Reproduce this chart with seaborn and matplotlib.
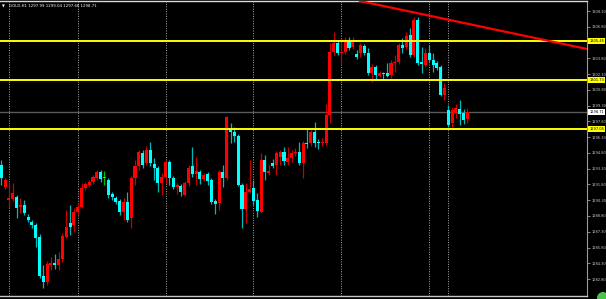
import numpy as np
import pandas as pd
import matplotlib
matplotlib.use("Agg")
import matplotlib.pyplot as plt
import seaborn as sns
from matplotlib.patches import Circle

# ---------------- data ----------------
symbol = "GOLD,H1"
header_values = ["1297.99", "1299.04", "1297.66", "1298.71"]

opens = [1293.65, 1291.56, 1290.32, 1290.42, 1290.61, 1289.65, 1289.84, 1288.70, 1288.23, 1287.94,
         1286.80, 1283.09, 1282.52, 1284.13, 1284.32, 1284.13, 1284.71, 1286.80, 1288.13, 1287.94,
         1289.18, 1289.65, 1291.46, 1291.75, 1292.03, 1292.41, 1292.98, 1292.41, 1292.22, 1290.89,
         1290.51, 1290.22, 1289.18, 1290.13, 1288.61, 1292.41, 1293.56, 1294.79, 1293.84, 1295.08,
         1293.75, 1293.37, 1291.94, 1292.51, 1293.94, 1292.41, 1291.56, 1291.65, 1290.80, 1291.94,
         1293.56, 1292.79, 1292.98, 1292.32, 1292.79, 1292.22, 1290.22, 1290.03, 1292.98, 1292.41,
         1297.17, 1296.79, 1296.41, 1291.75, 1289.46, 1291.08, 1291.46, 1290.32, 1289.18, 1294.13,
         1292.89, 1293.84, 1293.65, 1294.41, 1294.89, 1293.94, 1294.32, 1294.79, 1294.89, 1293.84,
         1295.74, 1295.74, 1296.79, 1295.84, 1295.74, 1295.74, 1298.41, 1304.40, 1305.26, 1304.31,
         1304.40, 1305.35, 1304.88, 1304.21, 1304.31, 1304.97, 1304.31, 1302.40, 1302.98, 1302.12,
         1302.40, 1302.40, 1302.21, 1303.36, 1303.45, 1305.07, 1304.88, 1306.02, 1304.12, 1307.45,
         1303.45, 1303.17, 1304.31, 1303.64, 1303.36, 1302.98, 1300.31, 1298.88, 1297.65, 1298.60,
         1298.98, 1298.60, 1297.99]
highs = [1294.13, 1292.41, 1291.94, 1291.94, 1290.80, 1290.51, 1290.32, 1288.99, 1288.42, 1288.13,
         1287.08, 1284.13, 1284.52, 1284.90, 1285.18, 1285.37, 1287.18, 1289.37, 1289.84, 1289.56,
         1290.03, 1291.94, 1292.03, 1292.22, 1292.70, 1293.17, 1293.17, 1293.08, 1292.41, 1291.08,
         1290.70, 1290.42, 1290.51, 1291.08, 1292.60, 1294.13, 1295.08, 1295.08, 1295.46, 1295.84,
         1294.32, 1293.56, 1292.89, 1294.13, 1294.13, 1292.60, 1291.94, 1291.84, 1292.13, 1293.65,
         1295.36, 1294.42, 1293.17, 1292.89, 1292.98, 1292.41, 1290.42, 1293.17, 1293.65, 1298.31,
         1297.65, 1297.27, 1296.60, 1291.94, 1291.94, 1294.13, 1292.22, 1290.99, 1294.79, 1294.60,
         1293.65, 1294.22, 1294.98, 1295.08, 1295.36, 1295.36, 1295.08, 1295.27, 1295.84, 1295.93,
         1297.17, 1296.98, 1297.74, 1296.12, 1296.22, 1299.46, 1305.26, 1306.31, 1305.54, 1305.73,
         1305.83, 1305.83, 1305.83, 1304.59, 1305.26, 1305.16, 1304.78, 1303.26, 1303.17, 1302.59,
         1302.50, 1303.36, 1303.64, 1304.12, 1305.26, 1305.73, 1306.31, 1306.69, 1307.73, 1307.73,
         1304.88, 1304.78, 1305.07, 1304.31, 1303.55, 1303.17, 1301.45, 1299.36, 1299.17, 1299.46,
         1299.84, 1298.98, 1299.04]
lows = [1291.75, 1291.37, 1289.56, 1290.22, 1288.61, 1289.08, 1288.89, 1288.23, 1287.66, 1285.85,
        1282.90, 1281.95, 1282.23, 1283.66, 1283.75, 1283.66, 1284.42, 1286.70, 1286.99, 1287.28,
        1288.99, 1289.56, 1291.27, 1291.56, 1291.84, 1292.22, 1292.03, 1291.75, 1290.51, 1290.32,
        1289.94, 1288.89, 1288.42, 1288.23, 1287.66, 1291.75, 1293.17, 1293.37, 1293.65, 1293.56,
        1292.22, 1291.08, 1290.80, 1291.94, 1291.75, 1291.37, 1290.89, 1290.70, 1290.70, 1291.65,
        1292.51, 1291.75, 1291.84, 1292.13, 1291.75, 1289.94, 1288.99, 1289.37, 1291.56, 1292.22,
        1295.74, 1295.84, 1291.65, 1287.66, 1288.13, 1290.99, 1289.84, 1288.70, 1289.08, 1292.22,
        1292.70, 1293.37, 1292.70, 1293.65, 1293.65, 1293.65, 1293.94, 1294.51, 1293.65, 1292.41,
        1295.27, 1295.46, 1295.36, 1295.17, 1295.46, 1295.55, 1297.65, 1304.12, 1304.12, 1303.36,
        1304.21, 1304.59, 1304.69, 1303.74, 1303.93, 1304.12, 1302.21, 1301.55, 1301.74, 1302.02,
        1301.74, 1302.02, 1301.93, 1302.50, 1303.26, 1304.31, 1304.69, 1303.93, 1303.93, 1303.17,
        1302.40, 1302.98, 1303.45, 1302.50, 1302.69, 1300.22, 1299.84, 1297.27, 1297.27, 1298.12,
        1297.46, 1297.56, 1297.66]
closes = [1292.41, 1292.22, 1290.51, 1290.99, 1289.56, 1289.84, 1289.08, 1288.42, 1287.94, 1286.70,
          1283.09, 1282.52, 1284.23, 1284.32, 1284.13, 1284.71, 1286.89, 1287.75, 1287.75, 1289.18,
          1289.65, 1291.46, 1291.84, 1292.03, 1292.51, 1292.98, 1292.32, 1292.41, 1290.80, 1290.61,
          1290.13, 1289.18, 1290.13, 1288.42, 1292.41, 1293.56, 1294.89, 1293.65, 1295.08, 1293.84,
          1293.37, 1291.94, 1292.51, 1293.94, 1292.41, 1291.56, 1291.75, 1291.08, 1291.94, 1293.37,
          1292.79, 1293.08, 1292.32, 1292.70, 1292.13, 1290.13, 1289.94, 1292.98, 1292.41, 1298.22,
          1296.79, 1296.41, 1291.75, 1289.46, 1291.08, 1291.37, 1290.22, 1289.27, 1294.13, 1292.98,
          1293.08, 1293.56, 1294.79, 1294.89, 1294.03, 1294.32, 1294.79, 1294.89, 1293.84, 1295.74,
          1295.65, 1296.79, 1295.74, 1295.74, 1295.84, 1298.41, 1304.40, 1305.26, 1304.31, 1304.40,
          1305.35, 1304.78, 1305.35, 1303.93, 1305.07, 1304.31, 1302.40, 1302.98, 1302.21, 1302.40,
          1302.31, 1302.12, 1303.36, 1303.45, 1305.07, 1304.78, 1305.92, 1304.12, 1307.45, 1303.36,
          1303.26, 1304.31, 1303.64, 1303.17, 1302.88, 1300.31, 1300.98, 1297.46, 1298.88, 1299.08,
          1298.50, 1297.93, 1298.71]

day_separators = [2, 20, 43, 66, 89, 112, 117]          # bar index where a new day starts
level_prices = [1305.45, 1301.73, 1297.05]               # yellow horizontal levels
level_labels = ["1305.45", "1301.73", "1297.05"]
last_price = 1298.71
last_label = "1298.71"
trend_points = [(92.6, 1309.35), (153.3, 1304.69)]      # red trend line anchors (bar, price)
tick_values = [1282.80, 1284.30, 1285.80, 1287.30, 1288.80, 1290.30, 1291.80, 1293.30,
               1294.80, 1296.30, 1297.80, 1299.30, 1300.80, 1302.30, 1303.80, 1305.30,
               1306.80, 1308.30]
tick_labels = ["1282.80", "1284.30", "1285.80", "1287.30", "1288.80", "1290.30", "1291.80",
               "1293.30", "1294.80", "1296.30", "1297.80", "1299.30", "1300.80", "1302.30",
               "1303.80", "1305.30", "1306.80", "1308.30"]

# ---------------- figure ----------------
sns.set_theme(style="dark", rc={"axes.facecolor": "black", "figure.facecolor": "black",
                                "axes.grid": False})
plt.rcParams['font.family'] = ['DejaVu Sans']

W, H = 606, 299
fig = plt.figure(figsize=(W / 100, H / 100), dpi=100)
ax = fig.add_axes([0, 3 / H, 587 / W, 295 / H])
ax.set_facecolor("black")

df = pd.DataFrame({"open": opens, "high": highs, "low": lows, "close": closes})
df["bar"] = np.arange(len(df))
up = df["close"] > df["open"]
doji = df["close"] == df["open"]
body_col = np.where(doji, "#00ff00", np.where(up, "#ff0000", "#00ffff"))
wick_col = np.where(doji, "#00c000", np.where(up, "#c80000", "#00b8b8"))
bottom = np.minimum(df["open"], df["close"])
height = np.maximum(np.abs(df["close"] - df["open"]), 0.1)

ax.vlines(df["bar"], df["low"], df["high"], colors=wick_col, lw=0.9, zorder=3)
ax.bar(df["bar"], height, bottom=bottom, width=0.8, color=body_col, linewidth=0, zorder=4)

# day separators
for s in day_separators:
    ax.axvline(s, color="#a8a8a8", lw=0.7, ls=(0, (1, 1.5)), zorder=1)

# current price line
ax.axhline(last_price, color="#5a5a5a", lw=1.0, zorder=2)

# yellow levels
for p in level_prices:
    ax.axhline(p, color="#ffff00", lw=1.4, zorder=5)

# trend line
ax.axline(trend_points[0], trend_points[1], color="#ff0000", lw=1.6, zorder=5)

ax.set_xlim(-0.34, 153.3)
ax.set_ylim(1281.186, 1309.255)

# tick labels hidden where a price label box covers them (as on the terminal)
covered = [min(abs(t - p) for p in level_prices + [last_price]) < 0.5 for t in tick_values]
shown_labels = ["" if c else lab for c, lab in zip(covered, tick_labels)]

ax.set_xticks([])
ax.yaxis.tick_right()
ax.set_yticks(tick_values)
ax.set_yticklabels(shown_labels)
ax.tick_params(axis="y", which="both", right=True, left=False, length=2, width=0.6,
               color="#a0a0a0", labelcolor="#c8c8c8", labelsize=2.6, pad=1.2)

ax.spines["left"].set_visible(False)
ax.spines["right"].set_color("#9a9a9a")
ax.spines["right"].set_linewidth(0.8)
ax.spines["bottom"].set_color("#c8c8c8")
ax.spines["bottom"].set_linewidth(1.0)
ax.spines["top"].set_color("#d8d8d8")
ax.spines["top"].set_linewidth(1.0)

ytr = ax.get_yaxis_transform()
for p, lab in zip(level_prices, level_labels):
    ax.text(1.004, p, lab, transform=ytr, ha="left", va="center", fontsize=2.6, color="black",
            bbox=dict(boxstyle="square,pad=0.25", fc="#ffff00", ec="none"), clip_on=False, zorder=10)
ax.text(1.004, last_price, last_label, transform=ytr, ha="left", va="center", fontsize=2.6,
        color="black", bbox=dict(boxstyle="square,pad=0.25", fc="#ffffff", ec="none"),
        clip_on=False, zorder=10)

# header
fig.text(2 / W, 1 - 6 / H, "\u25BC", fontsize=2.6, color="white", va="center", ha="left")
fig.text(9 / W, 1 - 6 / H, symbol + " " + " ".join(header_values), fontsize=2.8, color="white",
         va="center", ha="left")

# small green badge at bottom-right corner
fig.patches.append(Circle((603, 1), 6, transform=None, facecolor="#4cc24c", edgecolor="none"))

fig.savefig("out.png", dpi=100, facecolor="black")
